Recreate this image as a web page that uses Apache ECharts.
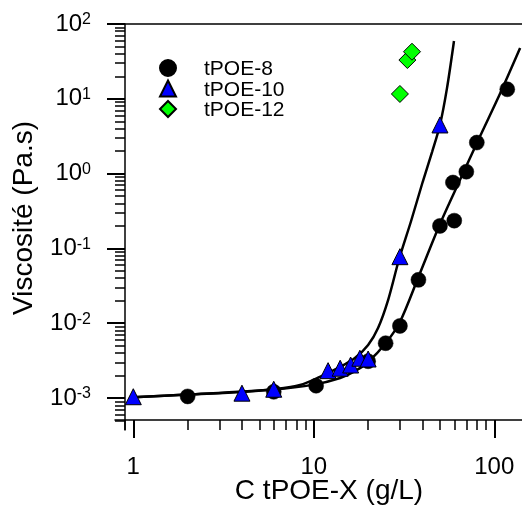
<!DOCTYPE html>
<html><head><meta charset="utf-8">
<script src="https://cdn.jsdelivr.net/npm/echarts@6/dist/echarts.min.js"></script>
<style>html,body{margin:0;padding:0;background:#fff}#c{width:522px;height:511px}</style>
</head><body><div id="c"></div>
<script>
const FONT = '"Liberation Sans", Arial, Helvetica, sans-serif';

// ---- data ----
const tpoe8X  = [2, 6, 10.3, 20, 25, 30, 38, 50, 60, 59, 70, 80, 118];
const tpoe8Y  = [1.05e-3, 1.21e-3, 1.46e-3, 3.1e-3, 5.4e-3, 9.2e-3, 0.038, 0.20, 0.235, 0.76, 1.06, 2.6, 13.4];
const tpoe10X = [1, 4, 6, 12, 14, 16, 18, 20, 30, 50];
const tpoe10Y = [1.04e-3, 1.16e-3, 1.31e-3, 2.32e-3, 2.5e-3, 2.76e-3, 3.4e-3, 3.32e-3, 0.0775, 4.47];
const tpoe12X = [30, 33, 35];
const tpoe12Y = [11.6, 33, 42.6];

// fitted curves
const fit8X  = [1, 2, 6, 10, 14, 17, 20, 25, 30, 38, 50, 64.5, 83.5, 108, 139];
const fit8Y  = [1.02e-3, 1.11e-3, 1.30e-3, 1.51e-3, 1.85e-3, 2.3e-3, 3.03e-3, 5.4e-3, 0.0104, 0.0415, 0.212, 0.82, 3.18, 11.96, 47.7];
const fit10X = [1, 2, 4, 6, 8.4, 10.8, 14, 16.9, 20, 22.7, 25.8, 29.7, 34.6, 40.1, 45.2, 50, 54.7, 59.8];
const fit10Y = [1.02e-3, 1.11e-3, 1.2e-3, 1.31e-3, 1.49e-3, 1.91e-3, 2.6e-3, 3.42e-3, 5.11e-3, 8.63e-3, 0.0204, 0.0722, 0.2325, 0.772, 1.94, 4.47, 13.9, 59.3];

// ---- axes ----
const xRange = [0.7919, 150];
const yRange = [3.735e-4, 100];
const xMajor = [1, 10, 100];
const xMinor = [0.9, 2, 3, 4, 5, 6, 7, 8, 9, 20, 30, 40, 50, 60, 70, 80, 90];
const yMajor = [1e-3, 1e-2, 1e-1, 1, 10, 100];
const yMinor = [5e-4, 6e-4, 7e-4, 8e-4, 9e-4,
  2e-3, 3e-3, 4e-3, 5e-3, 6e-3, 7e-3, 8e-3, 9e-3,
  2e-2, 3e-2, 4e-2, 5e-2, 6e-2, 7e-2, 8e-2, 9e-2,
  0.2, 0.3, 0.4, 0.5, 0.6, 0.7, 0.8, 0.9,
  2, 3, 4, 5, 6, 7, 8, 9,
  20, 30, 40, 50, 60, 70, 80, 90];
const seriesNames = ['tPOE-8', 'tPOE-10', 'tPOE-12'];
const xTitle = 'C tPOE-X (g/L)';
const yTitle = 'Viscosité (Pa.s)';

const pair = (xs, ys) => xs.map((x, i) => [x, ys[i]]);
const black = '#000';
const gridBox = {left: 115, top: 24, width: 411.08, height: 406, containLabel: false, outerBoundsMode: 'none'};

const baseLog = (extra) => Object.assign({
  type: 'log', logBase: 10, splitLine: {show: false}, minorTick: {show: false},
  minorSplitLine: {show: false}, axisPointer: {show: false}
}, extra);

const chart = echarts.init(document.getElementById('c'), null, {renderer: 'canvas'});
chart.setOption({
  animation: false,
  backgroundColor: '#fff',
  grid: [Object.assign({}, gridBox), Object.assign({}, gridBox)],
  xAxis: [
    baseLog({gridIndex: 0, min: xRange[0], max: xRange[1], position: 'bottom', offset: -10,
      axisLine: {show: true, onZero: false, lineStyle: {color: black, width: 1.5}},
      axisTick: {show: true, inside: false, length: 18, customValues: xMajor, lineStyle: {color: black, width: 2}},
      axisLabel: {show: true, customValues: xMajor, margin: 35, color: black, fontSize: 24, fontFamily: FONT,
        formatter: v => String(Math.round(v))}}),
    baseLog({gridIndex: 0, min: xRange[0], max: xRange[1], position: 'top',
      axisLine: {show: true, onZero: false, lineStyle: {color: black, width: 1.5}},
      axisTick: {show: false}, axisLabel: {show: false}}),
    baseLog({gridIndex: 1, min: xRange[0], max: xRange[1], position: 'bottom', offset: -10,
      axisLine: {show: false},
      axisTick: {show: true, inside: false, length: 10, customValues: xMinor, lineStyle: {color: black, width: 1.5}},
      axisLabel: {show: false}})
  ],
  yAxis: [
    baseLog({gridIndex: 0, min: yRange[0], max: yRange[1], position: 'left', offset: -10,
      axisLine: {show: true, onZero: false, lineStyle: {color: black, width: 1.5}},
      axisTick: {show: true, inside: false, length: 18, customValues: yMajor, lineStyle: {color: black, width: 2}},
      axisLabel: {show: true, customValues: yMajor, margin: 34, color: black, fontFamily: FONT,
        formatter: v => '{b|10}{e|' + Math.round(Math.log10(v)) + '}',
        rich: {
          b: {fontSize: 24, fontFamily: FONT, color: black},
          e: {fontSize: 16, fontFamily: FONT, color: black, verticalAlign: 'top'}
        }}}),
    baseLog({gridIndex: 1, min: yRange[0], max: yRange[1], position: 'left', offset: -10,
      axisLine: {show: false},
      axisTick: {show: true, inside: false, length: 10, customValues: yMinor, lineStyle: {color: black, width: 1.5}},
      axisLabel: {show: false}})
  ],
  legend: {
    data: seriesNames, orient: 'vertical', left: 159, top: 56, padding: 0,
    itemWidth: 16, itemHeight: 16, itemGap: -3.5,
    formatter: name => '{t|' + name + '}',
    textStyle: {color: black, fontSize: 21, fontFamily: FONT,
      rich: {t: {fontSize: 21, fontFamily: FONT, color: black, lineHeight: 16, padding: [3, 0, 0, 23]}}}
  },
  graphic: [
    {type: 'text', x: 329, y: 491, silent: true,
      style: {text: xTitle, font: '28px ' + FONT, fill: black, align: 'center', verticalAlign: 'middle'}},
    {type: 'text', x: 24.5, y: 218, rotation: Math.PI / 2, silent: true,
      style: {text: yTitle, font: '28px ' + FONT, fill: black, align: 'center', verticalAlign: 'middle'}}
  ],
  series: [
    {type: 'line', name: 'fit10', xAxisIndex: 0, yAxisIndex: 0, data: pair(fit10X, fit10Y),
      showSymbol: false, symbol: 'none', smooth: 0.3, silent: true, z: 1,
      lineStyle: {color: black, width: 2.5}},
    {type: 'line', name: 'fit8', xAxisIndex: 0, yAxisIndex: 0, data: pair(fit8X, fit8Y),
      showSymbol: false, symbol: 'none', smooth: 0.3, silent: true, z: 1,
      lineStyle: {color: black, width: 2.5}},
    {type: 'scatter', name: seriesNames[0], xAxisIndex: 0, yAxisIndex: 0, data: pair(tpoe8X, tpoe8Y),
      symbol: 'circle', symbolSize: 15, z: 3,
      itemStyle: {color: black, borderColor: black, borderWidth: 0.5, opacity: 1}},
    {type: 'scatter', name: seriesNames[1], xAxisIndex: 0, yAxisIndex: 0, data: pair(tpoe10X, tpoe10Y),
      symbol: 'triangle', symbolSize: 16, z: 4,
      itemStyle: {color: '#0000ff', borderColor: black, borderWidth: 1, opacity: 1}},
    {type: 'scatter', name: seriesNames[2], xAxisIndex: 0, yAxisIndex: 0, data: pair(tpoe12X, tpoe12Y),
      symbol: 'diamond', symbolSize: 17, z: 4,
      itemStyle: {color: '#00ff00', borderColor: black, borderWidth: 1, opacity: 1}}
  ]
});
</script>
</body></html>
